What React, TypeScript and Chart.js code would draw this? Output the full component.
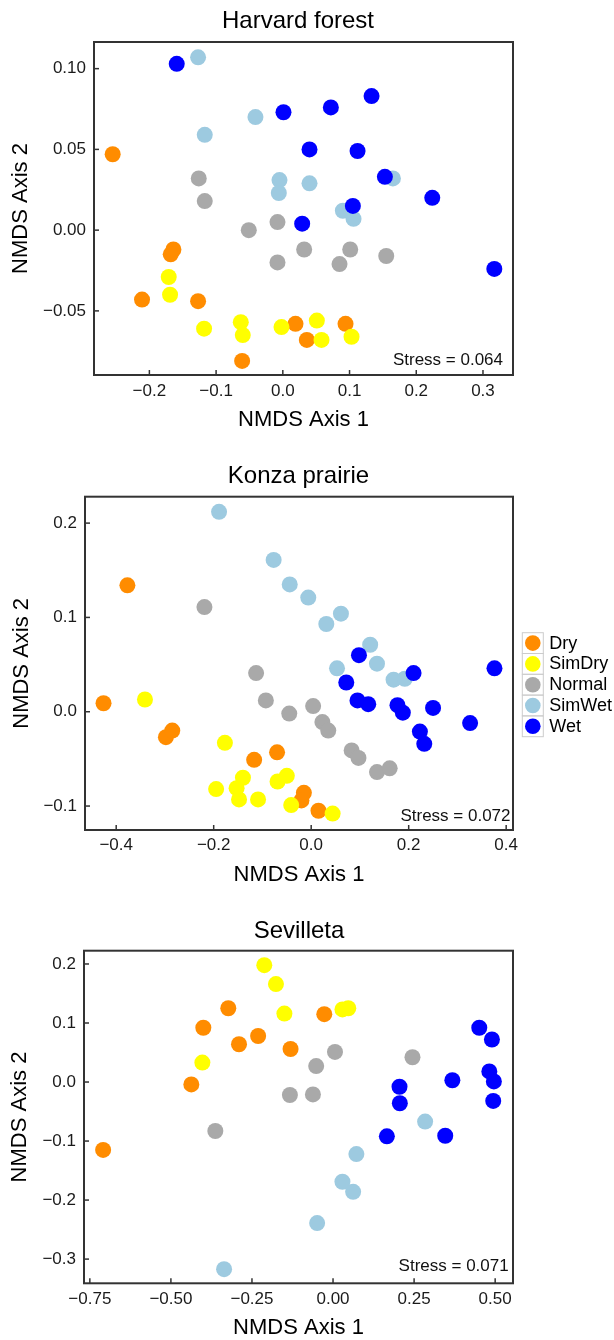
import React, { useEffect, useRef } from 'react';
import { Chart, registerables } from 'chart.js';

Chart.register(...registerables);

const FONT = "'Liberation Sans', Arial, Helvetica, sans-serif";

// ---------- categories ----------
const groups = ['Dry', 'SimDry', 'Normal', 'SimWet', 'Wet'];

// ---------- Harvard forest ----------
const harvardDry = [[-0.255, 0.047], [-0.164, -0.012], [-0.168, -0.015], [-0.211, -0.043], [-0.127, -0.044], [-0.061, -0.081], [0.019, -0.058], [0.036, -0.068], [0.094, -0.058]];
const harvardSimDry = [[-0.171, -0.029], [-0.169, -0.040], [-0.118, -0.061], [-0.063, -0.057], [-0.060, -0.065], [-0.002, -0.060], [0.051, -0.056], [0.058, -0.068], [0.103, -0.066]];
const harvardNormal = [[-0.126, 0.032], [-0.117, 0.018], [-0.051, 0.000], [-0.008, 0.005], [-0.008, -0.020], [0.032, -0.012], [0.085, -0.021], [0.101, -0.012], [0.155, -0.016]];
const harvardSimWet = [[-0.127, 0.107], [-0.117, 0.059], [-0.041, 0.070], [-0.005, 0.031], [-0.006, 0.023], [0.040, 0.029], [0.090, 0.012], [0.106, 0.007], [0.165, 0.032]];
const harvardWet = [[-0.159, 0.103], [0.001, 0.073], [0.072, 0.076], [0.133, 0.083], [0.040, 0.050], [0.112, 0.049], [0.153, 0.033], [0.224, 0.020], [0.105, 0.015], [0.029, 0.004], [0.317, -0.024]];
const harvardStress = 0.064;
const harvardXRange = [-0.283, 0.345];
const harvardYRange = [-0.0897, 0.1165];
const harvardXTicks = [-0.2, -0.1, 0.0, 0.1, 0.2, 0.3];
const harvardYTicks = [-0.05, 0.0, 0.05, 0.10];

// ---------- Konza prairie ----------
const konzaDry = [[-0.377, 0.134], [-0.426, 0.009], [-0.298, -0.027], [-0.285, -0.020], [-0.117, -0.051], [-0.070, -0.043], [-0.015, -0.086], [-0.020, -0.094], [0.015, -0.105]];
const konzaSimDry = [[-0.341, 0.013], [-0.177, -0.033], [-0.195, -0.082], [-0.153, -0.081], [-0.140, -0.070], [-0.148, -0.093], [-0.109, -0.093], [-0.069, -0.074], [-0.050, -0.068], [-0.041, -0.099], [0.044, -0.108]];
const konzaNormal = [[-0.219, 0.111], [-0.113, 0.041], [-0.093, 0.012], [-0.045, -0.002], [0.004, 0.006], [0.023, -0.011], [0.035, -0.020], [0.083, -0.041], [0.097, -0.049], [0.135, -0.064], [0.161, -0.060]];
const konzaSimWet = [[-0.189, 0.212], [-0.077, 0.161], [-0.044, 0.135], [-0.006, 0.121], [0.061, 0.104], [0.031, 0.093], [0.121, 0.071], [0.135, 0.051], [0.053, 0.046], [0.169, 0.034], [0.192, 0.035]];
const konzaWet = [[0.098, 0.060], [0.072, 0.031], [0.210, 0.041], [0.376, 0.046], [0.095, 0.012], [0.117, 0.008], [0.177, 0.007], [0.188, -0.001], [0.250, 0.004], [0.326, -0.012], [0.223, -0.021], [0.232, -0.034]];
const konzaStress = 0.072;
const konzaXRange = [-0.464, 0.414];
const konzaYRange = [-0.1254, 0.228];
const konzaXTicks = [-0.4, -0.2, 0.0, 0.2, 0.4];
const konzaYTicks = [-0.1, 0.0, 0.1, 0.2];

// ---------- Sevilleta ----------
const sevDry = [[-0.709, -0.115], [-0.437, -0.004], [-0.400, 0.092], [-0.323, 0.125], [-0.290, 0.064], [-0.231, 0.078], [-0.131, 0.056], [-0.027, 0.115]];
const sevSimDry = [[-0.403, 0.033], [-0.212, 0.198], [-0.176, 0.166], [-0.150, 0.116], [0.029, 0.123], [0.047, 0.125]];
const sevNormal = [[-0.363, -0.083], [-0.133, -0.022], [-0.062, -0.021], [-0.052, 0.027], [0.006, 0.051], [0.245, 0.042]];
const sevSimWet = [[0.284, -0.067], [0.072, -0.122], [0.029, -0.169], [0.062, -0.186], [-0.049, -0.239], [-0.336, -0.317]];
const sevWet = [[0.451, 0.092], [0.490, 0.072], [0.482, 0.018], [0.496, 0.001], [0.494, -0.032], [0.368, 0.003], [0.205, -0.008], [0.206, -0.036], [0.166, -0.092], [0.346, -0.091]];
const sevStress = 0.071;
const sevXRange = [-0.768, 0.555];
const sevYRange = [-0.341, 0.2225];
const sevXTicks = [-0.75, -0.50, -0.25, 0.00, 0.25, 0.50];
const sevYTicks = [-0.3, -0.2, -0.1, 0.0, 0.1, 0.2];

// ---------- styles ----------
const groupColors = ['#FF8C00', '#FFFF00', '#A9A9A9', '#9DCAE0', '#0000FF'];

type Layout = {
  top: number; h: number; left: number; right: number; areaTop: number; xH: number;
  yTitlePad: number; xTitlePad: number; xTickPad: number;
  titleX: number; titleY: number; stressX: number; stressDy: number; legend: boolean;
};

type PanelDef = {
  key: string; title: string; stress: number; series: number[][][];
  xRange: number[]; yRange: number[]; xTicks: number[]; yTicks: number[];
  xDec: number; yDec: number; lay: Layout;
};

const panels: PanelDef[] = [
  {
    key: 'harvard', title: 'Harvard forest', stress: harvardStress,
    series: [harvardDry, harvardSimDry, harvardNormal, harvardSimWet, harvardWet],
    xRange: harvardXRange, yRange: harvardYRange, xTicks: harvardXTicks, yTicks: harvardYTicks, xDec: 1, yDec: 2,
    lay: { top: 0, h: 440, left: 94, right: 513, areaTop: 42, xH: 65, yTitlePad: 10, xTitlePad: 9, xTickPad: 6,
      titleX: 298, titleY: 27.5, stressX: 503, stressDy: 14.3, legend: false },
  },
  {
    key: 'konza', title: 'Konza prairie', stress: konzaStress,
    series: [konzaDry, konzaSimDry, konzaNormal, konzaSimWet, konzaWet],
    xRange: konzaXRange, yRange: konzaYRange, xTicks: konzaXTicks, yTicks: konzaYTicks, xDec: 1, yDec: 1,
    lay: { top: 440, h: 455, left: 85, right: 513, areaTop: 56.7, xH: 65, yTitlePad: 11, xTitlePad: 9, xTickPad: 5,
      titleX: 298.5, titleY: 43.3, stressX: 510.5, stressDy: 13.3, legend: true },
  },
  {
    key: 'sev', title: 'Sevilleta', stress: sevStress,
    series: [sevDry, sevSimDry, sevNormal, sevSimWet, sevWet],
    xRange: sevXRange, yRange: sevYRange, xTicks: sevXTicks, yTicks: sevYTicks, xDec: 2, yDec: 1,
    lay: { top: 895, h: 445, left: 84, right: 513, areaTop: 55.7, xH: 56.7, yTitlePad: 9, xTitlePad: 1, xTickPad: 5.5,
      titleX: 299, titleY: 43.3, stressX: 508.7, stressDy: 16.6, legend: false },
  },
];

const fmt = (v: number, d: number) => {
  const s = Math.abs(v).toFixed(d);
  return v < -1e-9 ? '\u2212' + s : s;
};

function makeDecor(p: PanelDef) {
  const L = p.lay;
  return {
    id: 'decor_' + p.key,
    afterDraw(chart: any) {
      const { ctx, chartArea: a, scales } = chart;
      ctx.save();
      ctx.strokeStyle = '#333333';
      ctx.lineWidth = 1.5;
      for (const t of scales.x.ticks) {
        const px = scales.x.getPixelForValue(t.value);
        ctx.beginPath();
        ctx.moveTo(px, a.bottom);
        ctx.lineTo(px, a.bottom - 5);
        ctx.stroke();
      }
      for (const t of scales.y.ticks) {
        const py = scales.y.getPixelForValue(t.value);
        ctx.beginPath();
        ctx.moveTo(a.left, py);
        ctx.lineTo(a.left + 5, py);
        ctx.stroke();
      }
      ctx.lineWidth = 2;
      ctx.strokeRect(a.left, a.top, a.right - a.left, a.bottom - a.top);

      ctx.fillStyle = '#000';
      ctx.font = `24px ${FONT}`;
      ctx.textAlign = 'center';
      ctx.textBaseline = 'alphabetic';
      ctx.fillText(p.title, L.titleX, L.titleY);

      ctx.fillStyle = '#111';
      ctx.font = `17px ${FONT}`;
      ctx.textAlign = 'right';
      ctx.textBaseline = 'middle';
      ctx.fillText(`Stress = ${p.stress.toFixed(3)}`, L.stressX, a.bottom - L.stressDy);

      if (L.legend) {
        const keyLeft = 522.3, keyW = 21, rowH = 20.8, legTop = 192.7, textX = 549.3;
        chart.data.datasets.forEach((ds: any, i: number) => {
          const rt = legTop + i * rowH;
          ctx.strokeStyle = '#cccccc';
          ctx.lineWidth = 1;
          ctx.strokeRect(keyLeft, rt, keyW, rowH);
          ctx.beginPath();
          ctx.fillStyle = ds.backgroundColor;
          ctx.arc(keyLeft + keyW / 2, rt + rowH / 2, 7.8, 0, Math.PI * 2);
          ctx.fill();
          ctx.fillStyle = '#000';
          ctx.font = `18px ${FONT}`;
          ctx.textAlign = 'left';
          ctx.textBaseline = 'middle';
          ctx.fillText(ds.label, textX, rt + rowH / 2 + 0.5);
        });
      }
      ctx.restore();
    },
  };
}

function Panel({ p }: { p: PanelDef }) {
  const ref = useRef<HTMLCanvasElement | null>(null);
  useEffect(() => {
    if (!ref.current) return;
    const L = p.lay;
    const chart = new Chart(ref.current, {
      type: 'scatter',
      data: {
        datasets: groups.map((g, i) => ({
          label: g,
          data: p.series[i].map(([x, y]) => ({ x, y })),
          backgroundColor: groupColors[i],
          borderWidth: 0,
          pointRadius: 8,
          pointHoverRadius: 8,
          order: groups.length - i,
        })),
      },
      options: {
        responsive: false,
        animation: false,
        events: [],
        layout: { padding: { left: 0, right: 614 - L.right, top: L.areaTop, bottom: 0 } },
        plugins: { legend: { display: false }, title: { display: false }, tooltip: { enabled: false } },
        scales: {
          x: {
            type: 'linear',
            position: 'bottom',
            min: p.xRange[0],
            max: p.xRange[1],
            grid: { display: false, drawTicks: false, tickLength: 0 },
            border: { display: false },
            afterBuildTicks: (s: any) => { s.ticks = p.xTicks.map((v) => ({ value: v })); },
            afterFit: (s: any) => { s.height = L.xH; },
            ticks: {
              autoSkip: false, maxRotation: 0, minRotation: 0, padding: L.xTickPad,
              color: '#1a1a1a', font: { size: 17, family: FONT },
              callback: (v: any) => fmt(Number(v), p.xDec),
            },
            title: {
              display: true, text: 'NMDS Axis 1', color: '#000',
              font: { size: 22, family: FONT, lineHeight: 1 },
              padding: { top: 0, bottom: L.xTitlePad },
            },
          },
          y: {
            type: 'linear',
            position: 'left',
            min: p.yRange[0],
            max: p.yRange[1],
            grid: { display: false, drawTicks: false, tickLength: 0 },
            border: { display: false },
            afterBuildTicks: (s: any) => { s.ticks = p.yTicks.map((v) => ({ value: v })); },
            afterFit: (s: any) => { s.width = L.left; },
            ticks: {
              autoSkip: false, padding: 8,
              color: '#1a1a1a', font: { size: 17, family: FONT },
              callback: (v: any) => fmt(Number(v), p.yDec),
            },
            title: {
              display: true, text: 'NMDS Axis 2', color: '#000',
              font: { size: 22, family: FONT, lineHeight: 1 },
              padding: { top: L.yTitlePad, bottom: 0 },
            },
          },
        },
      },
      plugins: [makeDecor(p)],
    } as any);
    return () => chart.destroy();
  }, [p]);
  return (
    <canvas
      ref={ref}
      width={614}
      height={p.lay.h}
      style={{ position: 'absolute', left: 0, top: p.lay.top, width: 614, height: p.lay.h }}
    />
  );
}

export default function App() {
  return (
    <div style={{ position: 'absolute', left: 0, top: 0, width: 614, height: 1340, background: '#fff', overflow: 'hidden' }}>
      {panels.map((p) => (
        <Panel key={p.key} p={p} />
      ))}
    </div>
  );
}
